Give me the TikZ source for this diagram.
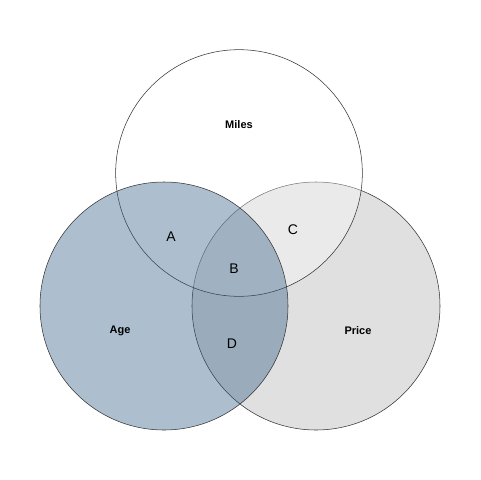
\documentclass[tikz,border=0pt]{standalone}
\usepackage{fontspec}
\setmainfont{Liberation Sans}
\definecolor{agefill}{RGB}{50,95,135}
\definecolor{pricefill}{RGB}{224,224,224}
\begin{document}
\begin{tikzpicture}[x=0.75pt,y=-0.75pt]
  \useasboundingbox (0,0) rectangle (480,480);
  \node[draw=black!80,circle,fill=pricefill,minimum size=186pt,inner sep=0pt] (price) at (316,306) {};
  \node[draw=black!80,circle,fill=white,fill opacity=0.35,minimum size=185pt,inner sep=0pt] (miles) at (239,173) {};
  \node[draw=black!80,circle,fill=agefill,fill opacity=0.4,minimum size=186pt,inner sep=0pt] (age) at (164,306) {};
  \node[font=\fontsize{8.25}{9}\selectfont\bfseries] (mileslabel) at (239,125) {Miles};
  \node[font=\fontsize{8.25}{9}\selectfont\bfseries] (agelabel) at (120,331) {Age};
  \node[font=\fontsize{8.25}{9}\selectfont\bfseries] (pricelabel) at (358,331) {Price};
  \node[font=\fontsize{10.5}{12}\selectfont] (regA) at (171,237) {A};
  \node[font=\fontsize{10.5}{12}\selectfont] (regB) at (234,269) {B};
  \node[font=\fontsize{10.5}{12}\selectfont] (regC) at (293,230) {C};
  \node[font=\fontsize{10.5}{12}\selectfont] (regD) at (232,344) {D};
\end{tikzpicture}
\end{document}
